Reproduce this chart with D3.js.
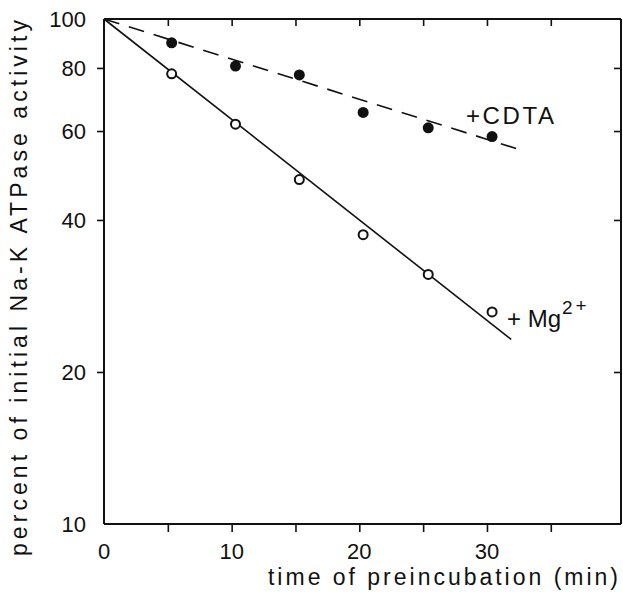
<!DOCTYPE html>
<html>
<head>
<meta charset="utf-8">
<script src="https://cdn.jsdelivr.net/npm/d3@7"></script>
<style>
  html, body { margin: 0; padding: 0; background: #fff; }
  svg { display: block; }
  text { font-family: "Liberation Sans", Arial, Helvetica, sans-serif; fill: #111; }
</style>
</head>
<body>
<svg id="chart" width="623" height="592"></svg>
<script>
// ---- data ----
const times = [5.3, 10.3, 15.3, 20.3, 25.4, 30.4];
const cdtaValues = [89.7, 80.7, 77.5, 65.3, 60.9, 58.5];
const mgValues = [77.9, 61.9, 48.1, 37.4, 31.2, 26.3];
const cdtaFitX = [0, 32.4];
const cdtaFitY = [100, 55.3];
const mgFitX = [0, 31.9];
const mgFitY = [100, 23.2];
const xTickLabels = [0, 10, 20, 30];
const xMinorTicks = [5, 10, 15, 20, 25, 30, 35];
const yTickLabels = [100, 80, 60, 40, 20, 10];
const yTickMarks = [80, 60, 40, 20];

(function () {
const svg = d3.select("#chart");
const mLeft = 104, mRight = 621, mTop = 19, mBottom = 524;

const x = d3.scaleLinear().domain([0, 40.5]).range([mLeft, mRight]);
const y = d3.scaleLog().domain([10, 100]).range([mBottom, mTop]);

const ink = "#111";

// axes
const gx = svg.append("g").attr("transform", `translate(0,${mBottom})`)
  .call(d3.axisBottom(x).tickValues(xMinorTicks).tickSize(8).tickFormat(""));
const gxTop = svg.append("g").attr("transform", `translate(0,${mTop})`)
  .call(d3.axisBottom(x).tickValues(xMinorTicks).tickSize(7).tickFormat(""));
const gy = svg.append("g").attr("transform", `translate(${mLeft},0)`)
  .call(d3.axisLeft(y).tickValues(yTickMarks).tickSize(7).tickFormat(""));
const gyR = svg.append("g").attr("transform", `translate(${mRight},0)`)
  .call(d3.axisLeft(y).tickValues(yTickMarks).tickSize(7).tickFormat(""));
[gx, gxTop, gy, gyR].forEach(g => {
  g.select(".domain").attr("stroke", ink).attr("stroke-width", 2);
  g.selectAll(".tick line").attr("stroke", ink).attr("stroke-width", 1.6);
});
gxTop.select(".domain").attr("d", `M${mLeft},0H${mRight}`);
gyR.select(".domain").attr("d", `M0,${mTop}V${mBottom}`);
gx.select(".domain").attr("d", `M${mLeft},0H${mRight}`);
gy.select(".domain").attr("d", `M0,${mTop}V${mBottom}`);

// tick labels
svg.append("g").selectAll("text").data(xTickLabels).join("text")
  .attr("x", d => x(d)).attr("y", mBottom + 35)
  .attr("text-anchor", "middle").attr("font-size", 22)
  .text(d => d);
svg.append("g").selectAll("text").data(yTickLabels).join("text")
  .attr("x", 86).attr("y", d => y(d) + 8)
  .attr("text-anchor", "end").attr("font-size", 22)
  .text(d => d);

// axis titles
svg.append("text").attr("x", 268).attr("y", 585)
  .attr("font-size", 23).attr("textLength", 350).attr("lengthAdjust", "spacing")
  .text("time of preincubation (min)");
svg.append("text")
  .attr("transform", "translate(27,556) rotate(-90)")
  .attr("font-size", 23).attr("textLength", 536).attr("lengthAdjust", "spacing")
  .text("percent of initial Na-K ATPase activity");

// fit lines
const line = d3.line().x(d => x(d[0])).y(d => y(d[1]));
svg.append("path").datum(d3.zip(cdtaFitX, cdtaFitY)).attr("d", line)
  .attr("fill", "none").attr("stroke", ink).attr("stroke-width", 1.6)
  .attr("stroke-dasharray", "16,10");
svg.append("path").datum(d3.zip(mgFitX, mgFitY)).attr("d", line)
  .attr("fill", "none").attr("stroke", ink).attr("stroke-width", 1.6);

// points
svg.append("g").selectAll("circle").data(d3.zip(times, cdtaValues)).join("circle")
  .attr("cx", d => x(d[0])).attr("cy", d => y(d[1])).attr("r", 5.5)
  .attr("fill", ink);
svg.append("g").selectAll("circle").data(d3.zip(times, mgValues)).join("circle")
  .attr("cx", d => x(d[0])).attr("cy", d => y(d[1])).attr("r", 4.5)
  .attr("fill", "#fff").attr("stroke", ink).attr("stroke-width", 2);

// series labels
svg.append("text").attr("x", 466).attr("y", 124).attr("font-size", 24)
  .attr("textLength", 88).attr("lengthAdjust", "spacing")
  .text("+CDTA");
const mg = svg.append("text").attr("x", 507).attr("y", 327).attr("font-size", 24);
mg.append("tspan").text("+ Mg");
mg.append("tspan").attr("font-size", 19).attr("dy", -13).attr("dx", 1).text("2");
mg.append("tspan").attr("font-size", 19).attr("dy", -2).attr("dx", 3).text("+");
})();
</script>
</body>
</html>
